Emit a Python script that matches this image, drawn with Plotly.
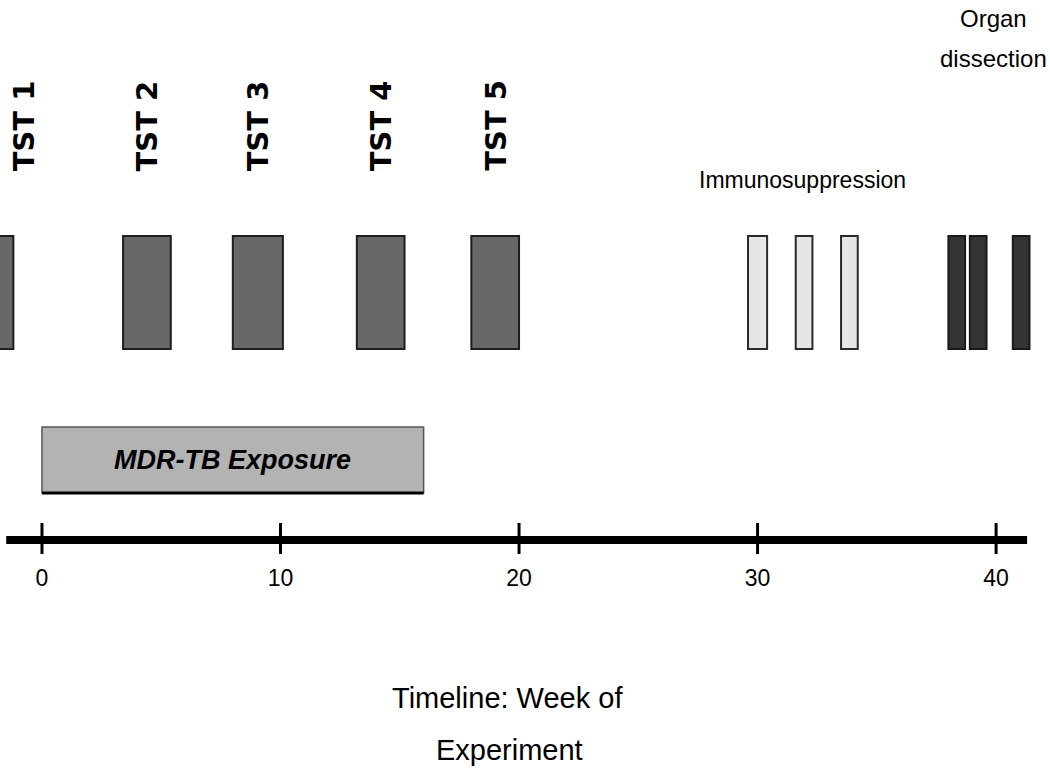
import plotly.graph_objs as go

# weeks
tst_labels = ["TST 1", "TST 2", "TST 3", "TST 4", "TST 5"]
tst_start = [-2.0, 3.4, 8.0, 13.2, 18.0]
tst_end = [-1.2, 5.4, 10.1, 15.2, 20.0]

immuno_start = [29.6, 31.6, 33.5]
immuno_end = [30.4, 32.3, 34.2]

dissection_start = [38.0, 38.9, 40.7]
dissection_end = [38.7, 39.6, 41.4]

exposure_start = 0
exposure_end = 16

tick_weeks = [0, 10, 20, 30, 40]
tick_labels = ["0", "10", "20", "30", "40"]
timeline_start = -1.5
timeline_end = 41.3

# layout / style
X_RANGE = [-1.76, 42.26]
Y_RANGE = [-2.44, 5.40]
BAR_BOTTOM, BAR_TOP = 1.91, 3.04
EXP_BOTTOM, EXP_TOP = 0.47, 1.13
NARROW = "Liberation Sans Narrow, Arial Narrow, Liberation Sans, Arial, sans-serif"
BOLD = "DejaVu Sans, Arial, sans-serif"


def centers_widths(starts, ends):
    c = [(s + e) / 2 for s, e in zip(starts, ends)]
    w = [e - s for s, e in zip(starts, ends)]
    return c, w


def event_bars(starts, ends, fill, edge, name):
    c, w = centers_widths(starts, ends)
    return go.Bar(
        x=c, y=[BAR_TOP - BAR_BOTTOM] * len(c), base=BAR_BOTTOM, width=w,
        marker=dict(color=fill, line=dict(color=edge, width=2)),
        name=name, hoverinfo="skip", showlegend=False,
    )


fig = go.Figure()

fig.add_trace(event_bars(tst_start, tst_end, "#686868", "#1e1e1e", "TST"))
fig.add_trace(event_bars(immuno_start, immuno_end, "#e6e6e6", "#2a2a2a", "Immunosuppression"))
fig.add_trace(event_bars(dissection_start, dissection_end, "#333333", "#1a1a1a", "Organ dissection"))

# MDR-TB exposure bar
fig.add_trace(go.Bar(
    x=[(exposure_start + exposure_end) / 2], y=[EXP_TOP - EXP_BOTTOM], base=EXP_BOTTOM,
    width=[exposure_end - exposure_start],
    marker=dict(color="#b3b3b3", line=dict(color="#555555", width=1.5)),
    hoverinfo="skip", showlegend=False,
))
fig.add_trace(go.Scatter(
    x=[exposure_start, exposure_end], y=[EXP_BOTTOM, EXP_BOTTOM], mode="lines",
    line=dict(color="black", width=3), hoverinfo="skip", showlegend=False,
))

# timeline axis
fig.add_trace(go.Scatter(
    x=[timeline_start, timeline_end], y=[0, 0], mode="lines",
    line=dict(color="black", width=8), hoverinfo="skip", showlegend=False,
))
tx, ty = [], []
for t in tick_weeks:
    tx += [t, t, None]
    ty += [-0.14, 0.17, None]
fig.add_trace(go.Scatter(
    x=tx, y=ty, mode="lines", line=dict(color="black", width=3),
    hoverinfo="skip", showlegend=False,
))
fig.add_trace(go.Scatter(
    x=tick_weeks, y=[-0.40] * len(tick_weeks), mode="text", text=tick_labels,
    textfont=dict(family=NARROW, size=23, color="black"),
    hoverinfo="skip", showlegend=False,
))

# TST labels (rotated)
tst_centers, _ = centers_widths(tst_start, tst_end)
for lab, c in zip(tst_labels, tst_centers):
    fig.add_annotation(
        x=max(c, X_RANGE[0] + 1.0), y=3.67, text="<b>%s</b>" % lab, textangle=-90,
        xanchor="center", yanchor="bottom", showarrow=False,
        font=dict(family=BOLD, size=29, color="black"),
    )

fig.add_annotation(
    x=(immuno_start[0] + immuno_end[-1]) / 2, y=3.60, text="Immunosuppression",
    showarrow=False, xanchor="center", yanchor="middle",
    font=dict(family=NARROW, size=23, color="black"),
)
dis_x = (dissection_start[0] + dissection_end[-1]) / 2 + 0.2
fig.add_annotation(
    x=dis_x, y=5.22, text="Organ", showarrow=False, xanchor="center", yanchor="middle",
    font=dict(family=NARROW, size=24, color="black"),
)
fig.add_annotation(
    x=dis_x, y=4.82, text="dissection", showarrow=False, xanchor="center", yanchor="middle",
    font=dict(family=NARROW, size=24, color="black"),
)
fig.add_annotation(
    x=(exposure_start + exposure_end) / 2, y=(EXP_BOTTOM + EXP_TOP) / 2,
    text="<b><i>MDR-TB Exposure</i></b>", showarrow=False,
    font=dict(family=NARROW, size=27, color="black"),
)

# axis title
fig.add_annotation(
    xref="paper", x=0.483, y=-1.58, text="Timeline: Week of", showarrow=False,
    font=dict(family=NARROW, size=29, color="black"),
)
fig.add_annotation(
    xref="paper", x=0.485, y=-2.10, text="Experiment", showarrow=False,
    font=dict(family=NARROW, size=29, color="black"),
)

fig.update_layout(
    width=1050,
    height=784,
    margin=dict(l=0, r=0, t=0, b=0),
    paper_bgcolor="white",
    plot_bgcolor="white",
    barmode="overlay",
    showlegend=False,
    xaxis=dict(range=X_RANGE, visible=False, fixedrange=True),
    yaxis=dict(range=Y_RANGE, visible=False, fixedrange=True),
)

# drop the default page margin so the figure sits at the window's corner
fig.write_html("out.html", config={"displayModeBar": False},
               post_script="document.body.style.margin='0';")
